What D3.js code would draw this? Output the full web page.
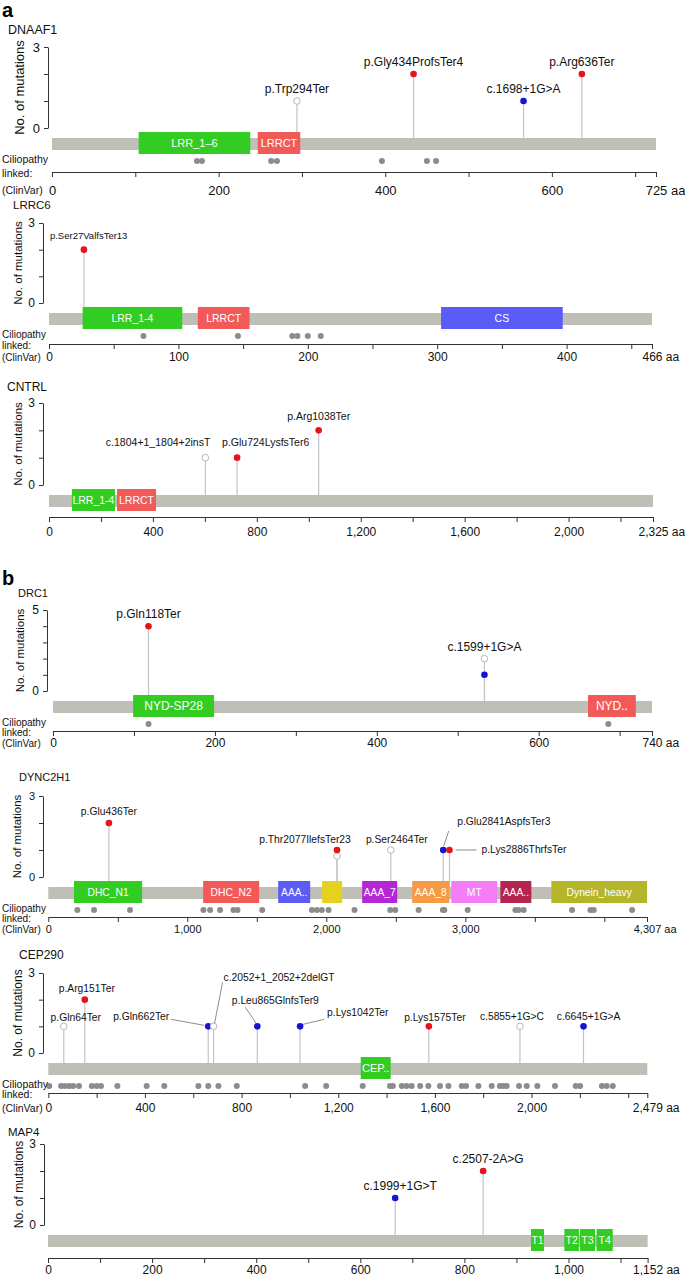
<!DOCTYPE html>
<html>
<head>
<meta charset="utf-8">
<script src="https://cdn.jsdelivr.net/npm/d3@7"></script>
<style>
  body { margin: 0; background: #fff; }
  svg text { font-family: "Liberation Sans", Arial, Helvetica, sans-serif; }
</style>
</head>
<body>
<div id="chart"></div>
<script>
// ---------------- data ----------------
// DNAAF1
var dnaaf1Length = 725;
var dnaaf1DomainNames = ["LRR_1–6", "LRRCT"];
var dnaaf1DomainStart = [104, 247];
var dnaaf1DomainEnd = [238, 298];
var dnaaf1MutLabels = ["p.Trp294Ter", "p.Gly434ProfsTer4", "c.1698+1G>A", "p.Arg636Ter"];
var dnaaf1MutPos = [294, 434, 566, 636];
var dnaaf1MutCount = [1, 2, 1, 2];
var dnaaf1MutType = ["open", "red", "blue", "red"];
var dnaaf1ClinVar = [174, 180, 263, 270, 396, 450, 461];
var dnaaf1XLabels = [0, 200, 400, 600, 725];

// LRRC6
var lrrc6Length = 466;
var lrrc6DomainNames = ["LRR_1-4", "LRRCT", "CS"];
var lrrc6DomainStart = [26, 115, 303];
var lrrc6DomainEnd = [103, 155, 397];
var lrrc6MutLabels = ["p.Ser27ValfsTer13"];
var lrrc6MutPos = [27];
var lrrc6MutCount = [2];
var lrrc6MutType = ["red"];
var lrrc6ClinVar = [73, 146, 188, 192, 200, 210];
var lrrc6XLabels = [0, 100, 200, 300, 400, 466];

// CNTRL
var cntrlLength = 2325;
var cntrlDomainNames = ["LRR_1-4", "LRRCT"];
var cntrlDomainStart = [88, 262];
var cntrlDomainEnd = [254, 412];
var cntrlMutLabels = ["c.1804+1_1804+2insT", "p.Glu724LysfsTer6", "p.Arg1038Ter"];
var cntrlMutPos = [602, 724, 1038];
var cntrlMutCount = [1, 1, 2];
var cntrlMutType = ["open", "red", "red"];
var cntrlClinVar = [];
var cntrlXLabels = [0, 400, 800, 1200, 1600, 2000, 2325];

// DRC1
var drc1Length = 740;
var drc1DomainNames = ["NYD-SP28", "NYD.."];
var drc1DomainStart = [99, 661];
var drc1DomainEnd = [199, 720];
var drc1MutLabels = ["p.Gln118Ter", "", "c.1599+1G>A"];
var drc1MutPos = [118, 533, 533];
var drc1MutCount = [4, 1, 2];
var drc1MutType = ["red", "blue", "open"];
var drc1ClinVar = [118, 686];
var drc1XLabels = [0, 200, 400, 600, 740];

// DYNC2H1
var dync2h1Length = 4307;
var dync2h1DomainNames = ["DHC_N1", "DHC_N2", "AAA..", "", "AAA_7", "AAA_8", "MT", "AAA..", "Dynein_heavy"];
var dync2h1DomainStart = [185, 1114, 1654, 1970, 2258, 2618, 2899, 3252, 3619];
var dync2h1DomainEnd = [675, 1517, 1884, 2114, 2510, 2885, 3230, 3475, 4307];
var dync2h1MutLabels = ["p.Glu436Ter", "", "p.Thr2077IlefsTer23", "p.Ser2464Ter", "p.Glu2841AspfsTer3", "p.Lys2886ThrfsTer"];
var dync2h1MutPos = [436, 2077, 2077, 2464, 2841, 2886];
var dync2h1MutCount = [2, 0.78, 1, 1, 1, 1];
var dync2h1MutType = ["red", "open", "red", "open", "blue", "red"];
var dync2h1ClinVar = [209, 329, 588, 1116, 1164, 1236, 1332, 1361, 1539, 1896, 1932, 1968, 2016,
  2203, 2460, 2496, 2664, 2839, 2849, 3017, 3360, 3384, 3420, 3768, 3900, 3924, 4200];
var dync2h1XLabels = [0, 1000, 2000, 3000, 4307];

// CEP290
var cep290Length = 2479;
var cep290DomainNames = ["CEP.."];
var cep290DomainStart = [1293];
var cep290DomainEnd = [1417];
var cep290MutLabels = ["p.Gln64Ter", "p.Arg151Ter", "p.Gln662Ter", "c.2052+1_2052+2delGT", "p.Leu865GlnfsTer9",
  "p.Lys1042Ter", "p.Lys1575Ter", "c.5855+1G>C", "c.6645+1G>A"];
var cep290MutPos = [64, 151, 662, 684, 865, 1042, 1575, 1952, 2215];
var cep290MutCount = [1, 2, 1, 1, 1, 1, 1, 1, 1];
var cep290MutType = ["open", "red", "blue", "open", "blue", "blue", "red", "open", "blue"];
var cep290ClinVar = [4, 53, 69, 87, 103, 127, 180, 200, 218, 286, 407, 480, 621, 662, 704, 780, 1063, 1150,
  1301, 1414, 1426, 1463, 1483, 1504, 1539, 1573, 1621, 1656, 1711, 1729, 1780, 1835, 1869, 1883, 1897,
  1948, 1980, 2024, 2097, 2183, 2201, 2291, 2311, 2336];
var cep290XLabels = [0, 400, 800, 1200, 1600, 2000, 2479];

// MAP4
var map4Length = 1152;
var map4DomainNames = ["T1", "T2", "T3", "T4"];
var map4DomainStart = [928, 992, 1022, 1054];
var map4DomainEnd = [953, 1020, 1051, 1085];
var map4MutLabels = ["c.1999+1G>T", "c.2507-2A>G"];
var map4MutPos = [667, 836];
var map4MutCount = [1, 2];
var map4MutType = ["blue", "red"];
var map4ClinVar = [];
var map4XLabels = [0, 200, 400, 600, 800, 1000, 1152];

// ---------------- styles / layout ----------------
var GREEN = "#33cc22", RED = "#f25a5a", BLUE = "#5b5bf5";
var dotColor = { red: "#e8121c", blue: "#1414d2", open: "#ffffff" };
var barColor = "#bfbfb7";

var panels = [
  { gene: "DNAAF1", len: dnaaf1Length, names: dnaaf1DomainNames, ds: dnaaf1DomainStart, de: dnaaf1DomainEnd,
    colors: [GREEN, RED], ml: dnaaf1MutLabels, mp: dnaaf1MutPos, mc: dnaaf1MutCount, mt: dnaaf1MutType,
    cv: dnaaf1ClinVar, xl: dnaaf1XLabels, step: 100, ymax: 3, cil: true,
    geneX: 8, geneY: 30, yTop: 47, yZero: 128, axisX: 48, x0: 52, x1: 656, axisY: 172, tickOff: 18, titleX: 19,
    fs: { gene: 12.5, tick: 13, title: 13, mut: 12, dom: 11, cil: 10.5 } },
  { gene: "LRRC6", len: lrrc6Length, names: lrrc6DomainNames, ds: lrrc6DomainStart, de: lrrc6DomainEnd,
    colors: [GREEN, RED, BLUE], ml: lrrc6MutLabels, mp: lrrc6MutPos, mc: lrrc6MutCount, mt: lrrc6MutType,
    cv: lrrc6ClinVar, xl: lrrc6XLabels, step: 50, ymax: 3, cil: true,
    geneX: 13, geneY: 205, yTop: 223, yZero: 303, axisX: 43, x0: 49, x1: 652, axisY: 344, tickOff: 13, titleX: 18,
    fs: { gene: 11.5, tick: 12, title: 11.5, mut: 9.5, dom: 10.5, cil: 10 } },
  { gene: "CNTRL", len: cntrlLength, names: cntrlDomainNames, ds: cntrlDomainStart, de: cntrlDomainEnd,
    colors: [GREEN, RED], ml: cntrlMutLabels, mp: cntrlMutPos, mc: cntrlMutCount, mt: cntrlMutType,
    cv: cntrlClinVar, xl: cntrlXLabels, step: 200, ymax: 3, cil: false,
    geneX: 7, geneY: 387, yTop: 403, yZero: 485, axisX: 43, x0: 49, x1: 653, axisY: 517, tickOff: 15, titleX: 18,
    fs: { gene: 12, tick: 12, title: 11.5, mut: 10.5, dom: 10.5, cil: 10 } },
  { gene: "DRC1", len: drc1Length, names: drc1DomainNames, ds: drc1DomainStart, de: drc1DomainEnd,
    colors: [GREEN, RED], ml: drc1MutLabels, mp: drc1MutPos, mc: drc1MutCount, mt: drc1MutType,
    cv: drc1ClinVar, xl: drc1XLabels, step: 100, ymax: 5, cil: true,
    geneX: 18, geneY: 593, yTop: 610, yZero: 691, axisX: 47, x0: 53, x1: 652, axisY: 731, tickOff: 12, titleX: 20,
    fs: { gene: 11, tick: 12, title: 11.5, mut: 12, dom: 12, cil: 10 } },
  { gene: "DYNC2H1", len: dync2h1Length, names: dync2h1DomainNames, ds: dync2h1DomainStart, de: dync2h1DomainEnd,
    colors: [GREEN, RED, BLUE, "#e6d21e", "#b526d4", "#f79a46", "#f57df5", "#b3244f", "#b5b52a"],
    ml: dync2h1MutLabels, mp: dync2h1MutPos, mc: dync2h1MutCount, mt: dync2h1MutType,
    cv: dync2h1ClinVar, xl: dync2h1XLabels, step: 500, ymax: 3, cil: true,
    geneX: 19, geneY: 777, yTop: 796, yZero: 877, axisX: 43, x0: 48.3, x1: 647, axisY: 917, tickOff: 12, titleX: 17,
    fs: { gene: 11, tick: 11, title: 11.5, mut: 10.3, dom: 10.3, cil: 10 } },
  { gene: "CEP290", len: cep290Length, names: cep290DomainNames, ds: cep290DomainStart, de: cep290DomainEnd,
    colors: [GREEN], ml: cep290MutLabels, mp: cep290MutPos, mc: cep290MutCount, mt: cep290MutType,
    cv: cep290ClinVar, xl: cep290XLabels, step: 200, ymax: 3, cil: true,
    geneX: 19, geneY: 955, yTop: 973, yZero: 1053, axisX: 43, x0: 48.3, x1: 647.3, axisY: 1093, tickOff: 15, titleX: 18,
    fs: { gene: 12, tick: 12, title: 12, mut: 10.3, dom: 11, cil: 10.5 } },
  { gene: "MAP4", len: map4Length, names: map4DomainNames, ds: map4DomainStart, de: map4DomainEnd,
    colors: [GREEN, GREEN, GREEN, GREEN], ml: map4MutLabels, mp: map4MutPos, mc: map4MutCount, mt: map4MutType,
    cv: map4ClinVar, xl: map4XLabels, step: 100, ymax: 3, cil: false,
    geneX: 8, geneY: 1132, yTop: 1144, yZero: 1225, axisX: 44, x0: 48, x1: 647.6, axisY: 1258, tickOff: 12, titleX: 19,
    fs: { gene: 11.5, tick: 12, title: 12, mut: 12, dom: 10.5, cil: 10 } }
];

// label nudges (offsets from the dot centre), leader = [x1, y1, x2, y2] relative to dot
var labelNudge = {
  "p.Ser27ValfsTer13": { anchor: "start", dx: -34, dy: -14 },
  "c.1804+1_1804+2insT": { anchor: "end", dx: 5, dy: -15 },
  "p.Glu724LysfsTer6": { anchor: "start", dx: -15, dy: -15 },
  "p.Arg1038Ter": { dy: -14 },
  "p.Thr2077IlefsTer23": { dx: -32, dy: -11 },
  "p.Ser2464Ter": { dx: 6, dy: -11 },
  "p.Glu2841AspfsTer3": { anchor: "start", dx: 14, dy: -29, leader: [0.5, -4, 5.5, -19] },
  "p.Lys2886ThrfsTer": { anchor: "start", dx: 32, dy: -1, leader: [6, 0, 27, 0] },
  "p.Gln64Ter": { dx: 12, dy: -9 },
  "p.Arg151Ter": { dx: 2, dy: -11 },
  "p.Gln662Ter": { anchor: "end", dx: -39, dy: -10, leader: [-37, -7, -4, -1] },
  "c.2052+1_2052+2delGT": { anchor: "start", dx: 10, dy: -49, leader: [1, -3, 9, -44] },
  "p.Leu865GlnfsTer9": { dx: 18, dy: -26, leader: [-12, -19, -1, -3] },
  "p.Lys1042Ter": { anchor: "start", dx: 27, dy: -14, leader: [3, -2, 24, -7] },
  "p.Lys1575Ter": { dx: 6, dy: -9 },
  "c.5855+1G>C": { dx: -8, dy: -10 },
  "c.6645+1G>A": { dx: 5, dy: -10 },
  "c.1999+1G>T": { dx: 5 },
  "c.2507-2A>G": { dx: 5 }
};

var svg = d3.select("#chart").append("svg")
  .attr("width", 685)
  .attr("height", 1278);

// panel letters
svg.append("text").attr("x", 2).attr("y", 17).attr("font-size", 20).attr("font-weight", "bold").text("a");
svg.append("text").attr("x", 2).attr("y", 585).attr("font-size", 20).attr("font-weight", "bold").text("b");

var fmt = d3.format(",");

function drawPanel(p) {
  var g = svg.append("g");

  var x = d3.scaleLinear().domain([0, p.len]).range([p.x0, p.x1]);
  var y = d3.scaleLinear().domain([0, p.ymax]).range([p.yZero, p.yTop]);
  var barTop = p.yZero + 10;

  // gene name
  g.append("text").attr("x", p.geneX).attr("y", p.geneY).attr("dy", "0.35em")
    .attr("font-size", p.fs.gene).attr("fill", "#111").text(p.gene);

  // y axis
  var yAxis = g.append("g")
    .attr("transform", "translate(" + p.axisX + ",0)")
    .call(d3.axisLeft(y).tickValues(d3.range(0, p.ymax + 1)).tickSize(4).tickSizeOuter(0).tickPadding(4)
      .tickFormat(function(d) { return (d === 0 || d === p.ymax) ? d : ""; }));
  yAxis.attr("font-family", null).attr("font-size", p.fs.tick);
  yAxis.selectAll("path, line").attr("stroke", "#333");
  yAxis.selectAll("text").attr("fill", "#111");

  g.append("text")
    .attr("transform", "translate(" + p.titleX + "," + ((p.yTop + p.yZero) / 2) + ") rotate(-90)")
    .attr("text-anchor", "middle").attr("dy", "0.35em")
    .attr("font-size", p.fs.title).attr("fill", "#111")
    .text("No. of mutations");

  // mutations: indices
  var muts = d3.range(p.mp.length);

  // stems
  g.selectAll(".stem").data(muts).enter().append("line")
    .attr("x1", function(i) { return x(p.mp[i]); })
    .attr("x2", function(i) { return x(p.mp[i]); })
    .attr("y1", barTop)
    .attr("y2", function(i) { return y(p.mc[i]); })
    .attr("stroke", "#c4c4c4").attr("stroke-width", 1.2);

  // protein bar
  g.append("rect")
    .attr("x", x(0)).attr("y", barTop)
    .attr("width", x(p.len) - x(0)).attr("height", 12)
    .attr("fill", barColor);

  // domains
  var doms = d3.range(p.ds.length);
  g.selectAll(".dom").data(doms).enter().append("rect")
    .attr("x", function(i) { return x(p.ds[i]); })
    .attr("y", p.yZero + 4)
    .attr("width", function(i) { return x(p.de[i]) - x(p.ds[i]); })
    .attr("height", 22)
    .attr("fill", function(i) { return p.colors[i]; });
  g.selectAll(".domlabel").data(doms).enter().append("text")
    .attr("x", function(i) { return (x(p.ds[i]) + x(p.de[i])) / 2; })
    .attr("y", p.yZero + 15)
    .attr("dy", "0.35em")
    .attr("text-anchor", "middle")
    .attr("font-size", p.fs.dom)
    .attr("fill", "#fff")
    .text(function(i) { return p.names[i]; });

  // dots
  g.selectAll(".dot").data(muts).enter().append("circle")
    .attr("cx", function(i) { return x(p.mp[i]); })
    .attr("cy", function(i) { return y(p.mc[i]); })
    .attr("r", 3.3)
    .attr("fill", function(i) { return dotColor[p.mt[i]]; })
    .attr("stroke", function(i) { return p.mt[i] === "open" ? "#b8b8b8" : "none"; })
    .attr("stroke-width", 1);

  // labels + leaders
  muts.forEach(function(i) {
    var name = p.ml[i];
    if (!name) return;
    var n = labelNudge[name] || {};
    var cx = x(p.mp[i]), cy = y(p.mc[i]);
    if (n.leader) {
      g.append("line")
        .attr("x1", cx + n.leader[0]).attr("y1", cy + n.leader[1])
        .attr("x2", cx + n.leader[2]).attr("y2", cy + n.leader[3])
        .attr("stroke", "#808080").attr("stroke-width", 0.9);
    }
    g.append("text")
      .attr("x", cx + (n.dx || 0))
      .attr("y", cy + (n.dy === undefined ? -12 : n.dy))
      .attr("dy", "0.35em")
      .attr("text-anchor", n.anchor || "middle")
      .attr("font-size", p.fs.mut)
      .attr("fill", "#111")
      .text(name);
  });

  // ciliopathy (ClinVar) dots
  var cilY = p.yZero + 33;
  g.selectAll(".cv").data(p.cv).enter().append("circle")
    .attr("cx", function(d) { return x(d); })
    .attr("cy", cilY)
    .attr("r", 3)
    .attr("fill", "#8c8c8c");

  // x axis
  var tickVals = d3.range(0, p.len, p.step).concat([p.len]);
  var xAxis = g.append("g")
    .attr("transform", "translate(0," + p.axisY + ")")
    .call(d3.axisBottom(x).tickValues(tickVals).tickSize(5).tickSizeOuter(0)
      .tickFormat(function(d) { return p.xl.indexOf(d) >= 0 ? fmt(d) : ""; }));
  xAxis.attr("font-family", null).attr("font-size", p.fs.tick);
  xAxis.selectAll("path, line").attr("stroke", "#333");
  xAxis.selectAll("text").attr("fill", "#111").attr("y", p.tickOff).attr("dy", "0.35em");
  xAxis.selectAll(".tick text").each(function(d) {
    if (d === p.len) {
      var w = this.getComputedTextLength();
      d3.select(this).attr("text-anchor", "start").attr("x", -w / 2).text(fmt(d) + " aa");
    }
  });

  if (p.cil) {
    var lines = ["Ciliopathy", "linked:", "(ClinVar)"];
    var ys = [cilY - 2, p.axisY + 1, p.axisY + p.tickOff];
    lines.forEach(function(t, k) {
      g.append("text").attr("x", 2).attr("y", ys[k]).attr("dy", "0.35em")
        .attr("font-size", p.fs.cil).attr("fill", "#111").text(t);
    });
  }
}

panels.forEach(drawPanel);
</script>
</body>
</html>
